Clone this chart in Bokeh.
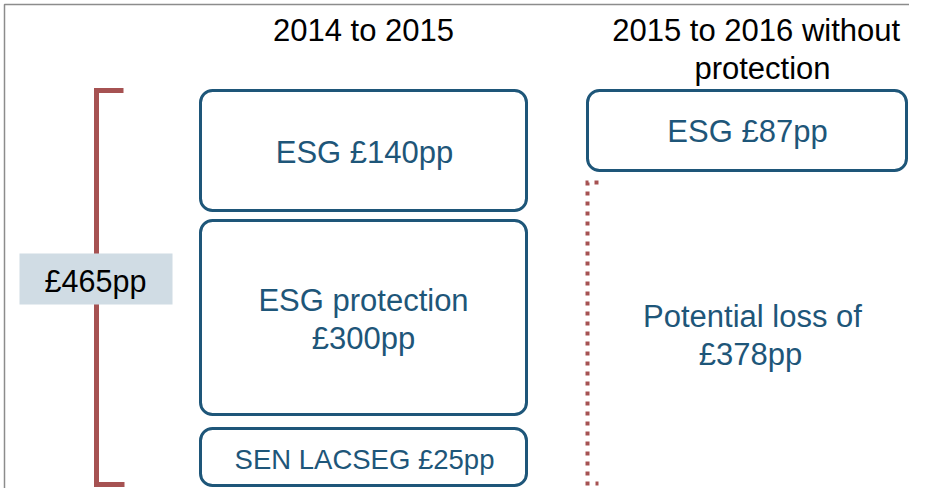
from bokeh.plotting import figure
from bokeh.models import Range1d, ColumnDataSource
from bokeh.core.properties import value
from bokeh.embed import file_html
from bokeh.resources import INLINE

# ---- data ----
period_titles = ["2014 to 2015", "2015  to 2016 without", "protection"]
left_names = ["ESG", "ESG protection", "SEN LACSEG"]
left_values = [140, 300, 25]          # £ per pupil, 2014 to 2015
right_esg_value = 87                  # £ per pupil, 2015 to 2016 without protection
total_value = sum(left_values)        # 465
loss_value = total_value - right_esg_value   # 378

# ---- layout (pixel-like coordinates of the canvas) ----
W, H = 909, 488
BLUE = "#1E5679"
RED = "#A65252"
FONT = value("Liberation Sans")

p = figure(width=W, height=H, output_backend="svg", toolbar_location=None,
           x_range=Range1d(0, W), y_range=Range1d(H, 0),
           min_border=0, outline_line_color=None)
p.axis.visible = False
p.grid.visible = False
p.background_fill_color = "white"

# frame (top and left)
p.line(x=[W, 4, 4], y=[4, 4, H], line_color="#8c8c8c", line_width=1.5)

# left stacked boxes
left_tops = [90, 220, 428]
left_bottoms = [210, 414, 485]
src_left = ColumnDataSource(dict(left=[200] * 3, right=[526] * 3,
                                 top=left_tops, bottom=left_bottoms))
p.quad(left="left", right="right", top="top", bottom="bottom", source=src_left,
       fill_color="white", line_color=BLUE, line_width=3, border_radius=12)

# right box
p.quad(left=[587], right=[906], top=[90], bottom=[170],
       fill_color="white", line_color=BLUE, line_width=3, border_radius=12)

# solid bracket for total
p.line(x=[123, 96, 96, 124], y=[90, 90, 484, 484], line_color=RED,
       line_width=5, line_join="miter")
# dotted bracket for potential loss
p.line(x=[598, 587, 587, 598], y=[182, 182, 483, 483], line_color=RED,
       line_width=4, line_dash="4 6", line_join="miter")

# total label box
p.quad(left=[19], right=[172], top=[253], bottom=[304],
       fill_color="#D0DCE4", line_color=None)

# texts
p.text(x=[363, 760, 762], y=[30, 30, 68], text=period_titles,
       text_font=FONT, text_font_size="31px", text_color="black",
       text_align="center", text_baseline="middle")

p.text(x=[364], y=[152], text=[f"{left_names[0]} £{left_values[0]}pp"],
       text_font=FONT, text_font_size="31px", text_color=BLUE,
       text_align="center", text_baseline="middle")
p.text(x=[363, 363], y=[300, 338], text=[left_names[1], f"£{left_values[1]}pp"],
       text_font=FONT, text_font_size="31px", text_color=BLUE,
       text_align="center", text_baseline="middle")
p.text(x=[364], y=[459], text=[f"{left_names[2]} £{left_values[2]}pp"],
       text_font=FONT, text_font_size="27.5px", text_color=BLUE,
       text_align="center", text_baseline="middle")
p.text(x=[747], y=[131], text=[f"ESG £{right_esg_value}pp"],
       text_font=FONT, text_font_size="31px", text_color=BLUE,
       text_align="center", text_baseline="middle")
p.text(x=[752, 750], y=[316, 354], text=["Potential loss of", f"£{loss_value}pp"],
       text_font=FONT, text_font_size="31px", text_color=BLUE,
       text_align="center", text_baseline="middle")
p.text(x=[95], y=[280], text=[f"£{total_value}pp"],
       text_font=FONT, text_font_size="30.5px", text_color="black",
       text_align="center", text_baseline="middle")

open("out.html", "w").write(file_html(p, INLINE))
